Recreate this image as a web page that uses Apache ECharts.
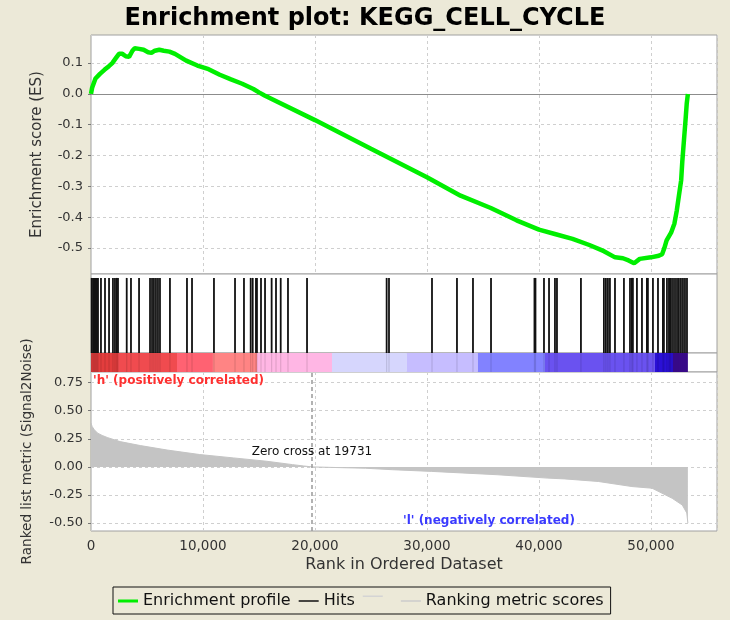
<!DOCTYPE html>
<html><head><meta charset="utf-8">
<script src="https://cdn.jsdelivr.net/npm/echarts@6/dist/echarts.min.js"></script>
<style>html,body{margin:0;padding:0;background:#ece9d8}#c{width:730px;height:620px}</style>
</head><body><div id="c"></div><script>
// ---------- data ----------
const titleText = 'Enrichment plot: KEGG_CELL_CYCLE';
const rankMax = 55900;
const esTicks = [-0.5, -0.4, -0.3, -0.2, -0.1, 0.0, 0.1];
const metricTicks = [-0.5, -0.25, 0, 0.25, 0.5, 0.75];

const esRanks = [0, 100, 400, 800, 1200, 1600, 1900, 2200, 2500, 2800, 3100, 3400, 3700, 3900, 4300, 4700, 5100, 5400, 5700, 6100, 6500, 7000, 7500, 8500, 9500, 10500, 11500, 12500, 13500, 14500, 15000, 15500, 20000, 25000, 30000, 33000, 35700, 38000, 40000, 41500, 43000, 44500, 45800, 46800, 47500, 48000, 48500, 49000, 50000, 50700, 51000, 51200, 51400, 51800, 52100, 52300, 52500, 52700, 52800, 52950, 53100, 53200, 53300];
const esValues = [0, 0.02, 0.05, 0.065, 0.078, 0.09, 0.1, 0.115, 0.13, 0.13, 0.122, 0.12, 0.14, 0.148, 0.146, 0.143, 0.135, 0.133, 0.14, 0.143, 0.14, 0.137, 0.13, 0.108, 0.092, 0.08, 0.062, 0.047, 0.033, 0.016, 0.005, -0.005, -0.085, -0.178, -0.27, -0.33, -0.37, -0.41, -0.44, -0.455, -0.47, -0.49, -0.51, -0.53, -0.533, -0.54, -0.549, -0.535, -0.53, -0.525, -0.52, -0.5, -0.475, -0.45, -0.42, -0.38, -0.33, -0.28, -0.22, -0.15, -0.08, -0.03, 0];

const hitRanks = [60, 180, 270, 360, 450, 540, 625, 890, 1250, 1610, 1960, 2140, 2300, 2410, 3190, 3570, 4290, 5270, 5450, 5620, 5800, 5980, 6160, 7050, 8570, 9020, 10980, 12860, 13660, 14260, 14440, 14730, 14820, 15180, 15540, 16130, 16520, 16940, 17590, 19290, 26400, 26610, 30450, 32680, 34110, 35720, 39600, 39690, 40450, 40900, 41430, 41610, 43750, 45800, 45980, 46160, 46340, 46790, 47590, 48130, 48300, 48390, 48750, 49200, 49640, 49730, 50180, 50630, 51070, 51160, 51430, 51610, 51700, 51790, 51970, 52150, 52330, 52500, 52680, 52860, 53040, 53220];

const metricRanks = [0, 100, 300, 600, 1000, 1500, 2600, 4400, 6800, 9700, 12700, 15700, 18000, 19000, 19731, 21600, 24500, 26900, 30400, 36300, 40800, 42300, 45300, 48300, 50100, 51900, 52800, 53200, 53300];
const metricValues = [0.39, 0.36, 0.33, 0.30, 0.28, 0.26, 0.225, 0.19, 0.15, 0.11, 0.08, 0.05, 0.02, 0.008, 0, -0.005, -0.012, -0.025, -0.04, -0.07, -0.1, -0.107, -0.13, -0.175, -0.19, -0.28, -0.34, -0.41, -0.5];

const bandEdges = [0, 2410, 7680, 10890, 14820, 21520, 28210, 34550, 40540, 50360, 51970, 53300];
const zeroCross = 19731;

const posLabel = "'h' (positively correlated)";
const negLabel = "'l' (negatively correlated)";
const seriesNames = ['Enrichment profile', 'Hits', ' ', 'Ranking metric scores'];

// ---------- styles ----------
const bandColors = ['#e33d3d', '#f04b4f', '#ff6272', '#ff8484', '#ffb6e4', '#d6d6fd', '#c6bdff', '#8282ff', '#6a52f0', '#2a10d6', '#3c0a92'];
const FONT = 'DejaVu Sans';
const gridBorder = '#a0a0a0';
const dash = [3, 3];

const esData = esRanks.map((r, i) => [r, esValues[i]]);
const metricData = metricRanks.map((r, i) => [r, metricValues[i]]);
const hitData = hitRanks.map(r => [r]);
const bandData = bandColors.map((c, i) => [bandEdges[i], bandEdges[i + 1], i]);

const iconThick = 'path://M0,0L0.01,0Z M0,4.5L20,4.5L20,7.5L0,7.5Z M20,12L19.99,12Z';
const iconThin = 'path://M0,0L0.01,0Z M0,5.3L20,5.3L20,6.7L0,6.7Z M20,12L19.99,12Z';
const iconRaised = 'path://M0,0L0.01,0Z M0,0.6L20,0.6L20,2L0,2Z M20,12L19.99,12Z';

function gridDef(top, height) {
  return { left: 91, top: top, width: 626, height: height, show: true, backgroundColor: '#fff',
    borderColor: gridBorder, borderWidth: 1, containLabel: false, outerBoundsMode: 'none' };
}
function xDef(idx, showLabels, showSplit) {
  return {
    type: 'value', gridIndex: idx, min: 0, max: rankMax, interval: 10000,
    axisLine: { show: false }, axisTick: { show: false },
    axisLabel: { show: showLabels, showMaxLabel: false, fontFamily: FONT, fontSize: 13.5, color: '#333', margin: 8,
      formatter: v => v.toLocaleString('en-US') },
    splitLine: { show: showSplit, lineStyle: { color: '#cfcfcf', type: dash } },
    name: showLabels ? 'Rank in Ordered Dataset' : '', nameLocation: 'middle', nameGap: 26,
    nameTextStyle: { fontFamily: FONT, fontSize: 16, color: '#333' }
  };
}

const chart = echarts.init(document.getElementById('c'), null, { renderer: 'canvas' });
chart.setOption({
  backgroundColor: '#ece9d8',
  animation: false,
  title: { text: titleText, left: 'center', top: 2, textStyle: { fontFamily: FONT, fontWeight: 'bold', fontSize: 24, color: '#000' } },
  grid: [gridDef(35, 239), gridDef(274, 79), gridDef(353, 19), gridDef(372, 159)],
  xAxis: [xDef(0, false, true), xDef(1, false, false), xDef(2, false, false), xDef(3, true, true)],
  yAxis: [
    { type: 'value', gridIndex: 0, min: -0.584, max: 0.191,
      axisLine: { show: false },
      axisTick: { show: true, length: 3, customValues: esTicks, lineStyle: { color: '#777' } },
      axisLabel: { customValues: esTicks, fontFamily: FONT, fontSize: 13, color: '#333', margin: 8, formatter: v => v.toFixed(1) },
      splitLine: { show: true, lineStyle: { color: '#cfcfcf', type: dash } },
      name: 'Enrichment score (ES)', nameLocation: 'middle', nameGap: 46,
      nameTextStyle: { fontFamily: FONT, fontSize: 15, color: '#333' } },
    { type: 'value', gridIndex: 1, min: 0, max: 1, show: false },
    { type: 'value', gridIndex: 2, min: 0, max: 1, show: false },
    { type: 'value', gridIndex: 3, min: -0.571, max: 0.845,
      axisLine: { show: false },
      axisTick: { show: true, length: 3, customValues: metricTicks, lineStyle: { color: '#777' } },
      axisLabel: { customValues: metricTicks, fontFamily: FONT, fontSize: 13, color: '#333', margin: 8, formatter: v => v.toFixed(2) },
      splitLine: { show: true, lineStyle: { color: '#cfcfcf', type: dash } },
      name: 'Ranked list metric (Signal2Noise)', nameLocation: 'middle', nameGap: 57,
      nameTextStyle: { fontFamily: FONT, fontSize: 13.6, color: '#333' } }
  ],
  legend: {
    left: 113, top: 587, padding: [6, 7, 5, 5], itemGap: 8, itemWidth: 20, itemHeight: 12,
    symbolKeepAspect: false, borderColor: '#111', borderWidth: 1, selectedMode: false,
    itemStyle: { borderWidth: 0 },
    textStyle: { fontFamily: FONT, fontSize: 16, color: '#111' },
    data: [
      { name: seriesNames[0], icon: iconThick, itemStyle: { color: '#00ee00' } },
      { name: seriesNames[1], icon: iconThin, itemStyle: { color: '#111' } },
      { name: seriesNames[2], icon: iconRaised, itemStyle: { color: '#d4d4d4' } },
      { name: seriesNames[3], icon: iconThin, itemStyle: { color: '#cccccc' } }
    ]
  },
  series: [
    { name: seriesNames[0], type: 'line', xAxisIndex: 0, yAxisIndex: 0, data: esData,
      showSymbol: false, symbol: 'none', z: 5,
      lineStyle: { color: '#00ee00', width: 4.5 }, itemStyle: { color: '#00ee00' },
      markLine: { silent: true, symbol: 'none', label: { show: false }, z: 2,
        lineStyle: { color: '#8c8c8c', type: 'solid', width: 1 }, data: [{ yAxis: 0 }] } },
    { name: seriesNames[1], type: 'custom', xAxisIndex: 1, yAxisIndex: 1, data: hitData,
      encode: { x: 0 }, itemStyle: { color: '#111' },
      renderItem: function (params, api) {
        const p0 = api.coord([api.value(0), 0]);
        const p1 = api.coord([api.value(0), 0.95]);
        return { type: 'line', shape: { x1: p0[0], y1: p0[1], x2: p1[0], y2: p1[1] },
          style: { stroke: '#111', lineWidth: 1.8 } };
      } },
    { name: seriesNames[2], type: 'custom', xAxisIndex: 2, yAxisIndex: 2, data: bandData,
      encode: { x: [0, 1] }, itemStyle: { color: '#d4d4d4' },
      renderItem: function (params, api) {
        const a = api.coord([api.value(0), 1]);
        const b = api.coord([api.value(1), 0]);
        return { type: 'rect', shape: { x: a[0], y: a[1], width: b[0] - a[0], height: b[1] - a[1] },
          style: { fill: bandColors[api.value(2)] } };
      } },
    { name: 'hit stripes', type: 'custom', xAxisIndex: 2, yAxisIndex: 2, data: hitData,
      encode: { x: 0 }, z: 3,
      renderItem: function (params, api) {
        const p0 = api.coord([api.value(0), 0]);
        const p1 = api.coord([api.value(0), 1]);
        return { type: 'line', shape: { x1: p0[0], y1: p0[1], x2: p1[0], y2: p1[1] },
          style: { stroke: 'rgba(0,0,0,0.12)', lineWidth: 1.2 } };
      } },
    { name: seriesNames[3], type: 'line', xAxisIndex: 3, yAxisIndex: 3, data: metricData,
      showSymbol: false, symbol: 'none',
      lineStyle: { color: '#c4c4c4', width: 1 }, itemStyle: { color: '#c4c4c4' },
      areaStyle: { color: '#c4c4c4', opacity: 1 },
      markLine: { silent: true, symbol: 'none', label: { show: false },
        lineStyle: { color: '#999', type: [4, 3], width: 1.5 }, data: [{ xAxis: zeroCross }] },
      markPoint: { silent: true, symbol: 'circle', symbolSize: 1, itemStyle: { color: 'rgba(0,0,0,0)' },
        data: [
          { coord: [zeroCross, 0.134], label: { show: true, position: 'inside', formatter: 'Zero cross at ' + zeroCross,
              fontFamily: FONT, fontSize: 12, color: '#111' } },
          { coord: [180, 0.768], label: { show: true, position: 'inside', align: 'left', formatter: posLabel,
              fontFamily: FONT, fontSize: 12, fontWeight: 'bold', color: '#ff3030' } },
          { coord: [27860, -0.482], label: { show: true, position: 'inside', align: 'left', formatter: negLabel,
              fontFamily: FONT, fontSize: 12, fontWeight: 'bold', color: '#3a3aff' } }
        ] } }
  ]
});
</script></body></html>
